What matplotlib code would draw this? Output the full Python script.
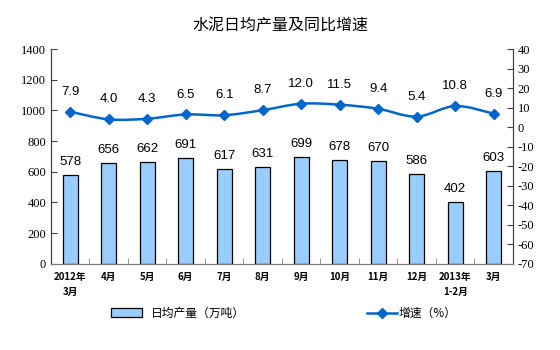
import numpy as np
import matplotlib
matplotlib.use("Agg")
from matplotlib import pyplot as plt
from matplotlib.path import Path
from matplotlib.patches import PathPatch, Patch
from matplotlib.lines import Line2D

plt.rcParams['font.family'] = ['Noto Sans CJK SC', 'DejaVu Sans']
plt.rcParams['axes.unicode_minus'] = False

mois = ['2012年\n3月', '4月', '5月', '6月', '7月', '8月', '9月',
        '10月', '11月', '12月', '2013年\n1-2月', '3月']
production = [578, 656, 662, 691, 617, 631, 699, 678, 670, 586, 402, 603]
croissance = [7.9, 4.0, 4.3, 6.5, 6.1, 8.7, 12.0, 11.5, 9.4, 5.4, 10.8, 6.9]

BLEU_BARRE = '#99CCFF'
BLEU_LIGNE = '#0066CC'


def courbe_lissee(xs, ys):
    # Catmull-Rom -> segments de Bezier, comme le lissage d'Excel
    pts = np.column_stack([xs, ys]).astype(float)
    verts = [pts[0]]
    codes = [Path.MOVETO]
    n = len(pts)
    for i in range(n - 1):
        p0 = pts[i - 1] if i > 0 else pts[i]
        p1 = pts[i]
        p2 = pts[i + 1]
        p3 = pts[i + 2] if i + 2 < n else pts[i + 1]
        c1 = p1 + (p2 - p0) / 6
        c2 = p2 - (p3 - p1) / 6
        verts += [c1, c2, p2]
        codes += [Path.CURVE4] * 3
    return Path(verts, codes)


fig = plt.figure(figsize=(5.6, 3.5), dpi=100)
ax = fig.add_axes([0.091, 0.246, 0.825, 0.614])
ax2 = ax.twinx()

x = np.arange(len(mois))
ax.bar(x, production, width=0.4, color=BLEU_BARRE, edgecolor='black', linewidth=0.9, zorder=2)
for xi, v in zip(x, production):
    ax.annotate(str(v), (xi, v), xytext=(0, 5), textcoords='offset points',
                ha='center', va='bottom', fontsize=9.5, family='Liberation Sans')

ax.set_xlim(-0.5, len(mois) - 0.5)
ax.set_ylim(0, 1400)
ax.set_yticks(np.arange(0, 1401, 200))
ax.set_xticks(x)
ax.set_xticklabels(mois, fontsize=7, fontweight='bold', linespacing=1.6,
                   multialignment='center')
ax.set_xticks(np.arange(-0.5, len(mois), 1), minor=True)
ax.tick_params(axis='x', which='major', length=0, pad=6)
ax.tick_params(axis='x', which='minor', length=4, direction='in', color='#808080')
ax.tick_params(axis='y', direction='in', length=4, labelsize=9, color='#404040')
for lab in ax.get_yticklabels():
    lab.set_family('Liberation Serif')

ax2.set_ylim(-70, 40)
ax2.set_yticks(np.arange(-70, 41, 10))
ax2.tick_params(axis='y', direction='in', length=4, labelsize=9, color='#404040')
for lab in ax2.get_yticklabels():
    lab.set_family('Liberation Serif')

ax2.add_patch(PathPatch(courbe_lissee(x, croissance), fill=False,
                        edgecolor=BLEU_LIGNE, linewidth=1.8, zorder=3))
ax2.plot(x, croissance, linestyle='none', marker='D', markersize=5,
         color=BLEU_LIGNE, zorder=4)
for xi, v in zip(x, croissance):
    ax2.annotate(f'{v:.1f}', (xi, v), xytext=(0, 10), textcoords='offset points',
                 ha='center', va='bottom', fontsize=9.5, family='Liberation Sans')

for a in (ax, ax2):
    a.spines['top'].set_visible(False)
    a.spines['left'].set_color('#404040')
    a.spines['right'].set_color('#404040')
    a.spines['bottom'].set_color('#808080')

fig.text(0.5, 0.925, '水泥日均产量及同比增速', ha='center', va='center', fontsize=11.5)

poignees = [Patch(facecolor=BLEU_BARRE, edgecolor='black', linewidth=0.9),
            Line2D([], [], color=BLEU_LIGNE, linewidth=1.8, marker='D', markersize=5)]
fig.legend([poignees[0]], ['日均产量（万吨）'], loc='center', bbox_to_anchor=(0.318, 0.105),
           frameon=False, fontsize=8.5, handlelength=2.6, handleheight=0.8)
fig.legend([poignees[1]], ['增速（%）'], loc='center', bbox_to_anchor=(0.735, 0.105),
           frameon=False, fontsize=8.5, handlelength=2.6, handletextpad=0.1)

fig.savefig('out.png', dpi=100)
